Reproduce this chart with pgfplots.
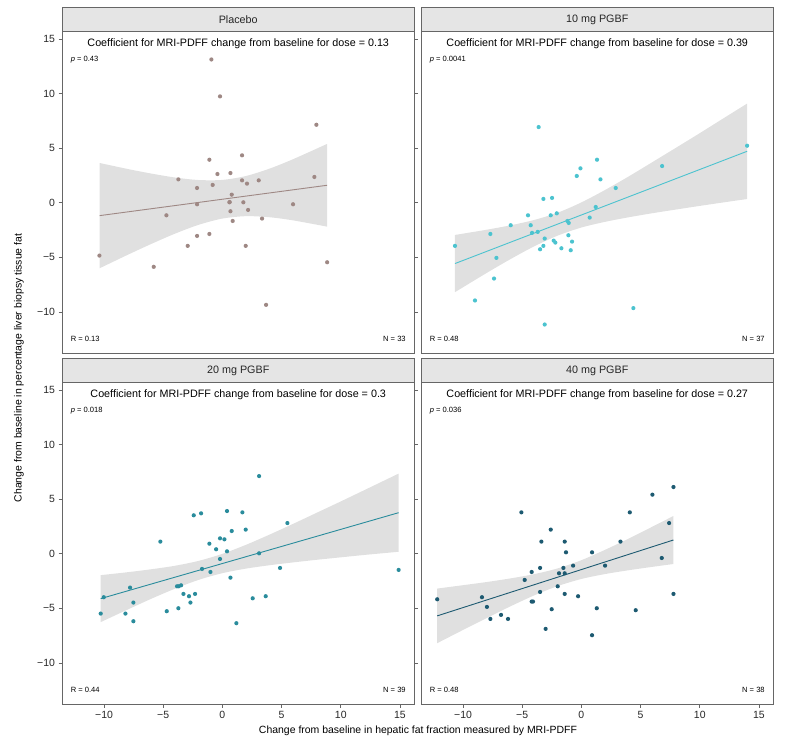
\documentclass[border=0pt]{standalone}
\usepackage{fontspec}
\setmainfont{Liberation Sans}
\usepackage{pgfplots}
\pgfplotsset{compat=1.18}
\usepgfplotslibrary{fillbetween}

\definecolor{placebo}{HTML}{9E8884}
\definecolor{tenmg}{HTML}{4CC3CF}
\definecolor{twentymg}{HTML}{2A8C9C}
\definecolor{fortymg}{HTML}{1D5A71}
\definecolor{band}{HTML}{E0E0E0}
\definecolor{frame}{HTML}{666666}
\definecolor{stripbg}{HTML}{E5E5E5}

\newcommand{\bigfont}{\fontsize{10.8}{13}\selectfont}
\newcommand{\smallfont}{\fontsize{7.6}{9}\selectfont}

\pgfplotsset{
  facet/.style={
    scale only axis,
    width=352.5bp, height=321.5bp,
    anchor=north west,
    xmin=-13.55, xmax=16.23,
    ymin=-13.77, ymax=15.67,
    axis line style={frame, line width=0.9bp},
    tick style={frame, line width=0.6bp},
    tick align=outside,
    major tick length=3.5bp,
    xtick={-10,-5,0,5,10,15},
    ytick={-10,-5,0,5,10,15},
    ticklabel style={font=\fontsize{10.5}{12}\selectfont, color=black!85},
    xticklabels={−10,−5,0,5,10,15},
    yticklabels={−10,−5,0,5,10,15},
    clip=false,
  },
  notx/.style={xtick=\empty},
  noty/.style={ytick=\empty},
  pts/.style={only marks, mark=*, mark size=2.1bp, mark options={solid, draw opacity=0}},
  fit/.style={line width=0.9bp},
}

% strip, coefficient title and p, R, N notes of one panel
\newcommand{\facetnotes}[5]{%
  \draw[frame, fill=stripbg, line width=0.9bp] (rel axis cs:0,1) rectangle (rel axis cs:1,1.0747);
  \node[font=\bigfont, text=black!85] at (rel axis cs:0.5,1.0373) {#1};
  \node[font=\bigfont] at (rel axis cs:0.5,0.9611) {Coefficient for MRI-PDFF change from baseline for dose = #2};
  \node[font=\smallfont, anchor=west] at (rel axis cs:0.015,0.9129) {\textit{p} = #3};
  \node[font=\smallfont, anchor=west] at (rel axis cs:0.015,0.0435) {R = #4};
  \node[font=\smallfont, anchor=east] at (rel axis cs:0.985,0.0435) {N = #5};
}

\begin{document}
\begin{tikzpicture}
\path (0,0) rectangle (787bp,-743bp);

% ---------- Placebo ----------
\begin{axis}[facet, notx, at={(62bp,-31.5bp)}]
  \addplot[name path=up, draw=none, smooth] coordinates {
    (-10.37,3.63) (-8,3.08) (-6,2.66) (-4,2.30) (-2,2.07) (0,2.08)
    (2,2.44) (4,3.12) (6,3.99) (8.85,5.38)};
  \addplot[name path=lo, draw=none, smooth] coordinates {
    (-10.37,-6.01) (-8,-4.78) (-6,-3.78) (-4,-2.84) (-2,-2.03) (0,-1.46)
    (2,-1.24) (4,-1.34) (6,-1.63) (8.85,-2.20)};
  \addplot[band, draw=none] fill between[of=up and lo];
  \addplot[fit, placebo] coordinates {(-10.37,-1.19) (8.85,1.59)};
  \addplot[pts, placebo] coordinates {
    (-0.93,13.11) (-0.20,9.73) (7.94,7.13) (-1.10,3.93) (1.66,4.33)
    (-0.42,2.62) (0.68,2.71) (-3.72,2.13) (1.66,2.04) (2.08,1.74)
    (3.07,2.04) (7.77,2.35) (-2.14,1.34) (-0.82,1.62) (0.79,0.73)
    (0.59,0.03) (1.77,0.03) (-2.14,-0.15) (5.97,-0.15) (0.68,-0.79)
    (2.17,-0.67) (-4.73,-1.16) (0.87,-1.68) (3.35,-1.46) (-2.14,-3.05)
    (-1.10,-2.87) (-2.93,-3.96) (1.97,-3.96) (-10.39,-4.85) (-5.80,-5.88)
    (8.85,-5.46) (3.69,-9.36) (0.62,0.05)};
  \facetnotes{Placebo}{0.13}{0.43}{0.13}{33}
\end{axis}

% ---------- 10 mg ----------
\begin{axis}[facet, notx, noty, at={(421bp,-31.5bp)}]
  \addplot[name path=up, draw=none, smooth] coordinates {
    (-10.68,-2.96) (-8,-2.48) (-6,-2.08) (-4,-1.59) (-2,-0.92) (0,0.02)
    (2,1.16) (4,2.40) (6,3.71) (8,5.03) (10,6.36) (12,7.72) (14,9.07)};
  \addplot[name path=lo, draw=none, smooth] coordinates {
    (-10.68,-8.20) (-8,-6.44) (-6,-5.18) (-4,-4.01) (-2,-3.02) (0,-2.28)
    (2,-1.76) (4,-1.34) (6,-0.97) (8,-0.63) (10,-0.30) (12,0.02) (14,0.33)};
  \addplot[band, draw=none] fill between[of=up and lo];
  \addplot[fit, tenmg] coordinates {(-10.68,-5.58) (14.0,4.70)};
  \addplot[pts, tenmg] coordinates {
    (-3.61,6.92) (14.0,5.21) (1.32,3.93) (-0.08,3.14) (-0.39,2.44)
    (1.61,2.13) (6.82,3.35) (2.90,1.34) (-3.21,0.34) (-2.48,0.43)
    (1.21,-0.40) (-4.51,-1.16) (-2.59,-1.16) (-2.08,-0.98) (0.70,-1.37)
    (-1.18,-1.68) (-1.07,-1.86) (-5.97,-2.07) (-4.28,-2.07) (-7.69,-2.87)
    (-4.17,-2.77) (-3.69,-2.68) (-1.10,-2.99) (-3.10,-3.29) (-2.34,-3.48)
    (-2.20,-3.66) (-0.79,-3.57) (-10.68,-3.96) (-3.21,-3.96) (-3.49,-4.27)
    (-1.69,-4.18) (-0.90,-4.36) (-7.18,-5.06) (-7.38,-6.95) (-8.99,-8.96)
    (4.39,-9.66) (-3.10,-11.16)};
  \facetnotes{10 mg PGBF}{0.39}{0.0041}{0.48}{37}
\end{axis}

% ---------- 20 mg ----------
\begin{axis}[facet, at={(62bp,-382.5bp)}]
  \addplot[name path=up, draw=none, smooth] coordinates {
    (-10.28,-1.97) (-8,-1.70) (-6,-1.43) (-4,-1.11) (-2,-0.66) (0,-0.02)
    (2,0.81) (4,1.75) (6,2.74) (8,3.76) (10,4.78) (12,5.82) (14.89,7.33)};
  \addplot[name path=lo, draw=none, smooth] coordinates {
    (-10.28,-6.27) (-8,-5.12) (-6,-4.13) (-4,-3.21) (-2,-2.40) (0,-1.79)
    (2,-1.37) (4,-1.06) (6,-0.80) (8,-0.56) (10,-0.34) (12,-0.12) (14.89,0.17)};
  \addplot[band, draw=none] fill between[of=up and lo];
  \addplot[fit, twentymg] coordinates {(-10.28,-4.12) (14.89,3.75)};
  \addplot[pts, twentymg] coordinates {
    (3.10,7.10) (0.39,3.90) (1.69,3.78) (-1.80,3.69) (-2.42,3.51)
    (5.49,2.80) (1.97,2.20) (0.79,2.07) (-5.24,1.10) (-1.10,0.91)
    (-0.20,1.40) (0.17,1.31) (-0.53,0.40) (0.39,0.21) (3.10,0.03)
    (-0.20,-0.49) (-1.72,-1.40) (-1.01,-1.68) (4.87,-1.31) (14.89,-1.49)
    (0.68,-2.20) (-3.83,-2.99) (-3.69,-2.99) (-3.49,-2.90) (-7.80,-3.11)
    (-3.29,-3.69) (-2.82,-3.90) (-2.31,-3.69) (-10.02,-3.99) (2.56,-4.09)
    (3.66,-3.90) (-7.52,-4.48) (-2.70,-4.48) (-3.72,-5.00) (-4.70,-5.27)
    (-10.28,-5.49) (-8.19,-5.49) (-7.52,-6.19) (1.18,-6.37)};
  \facetnotes{20 mg PGBF}{0.3}{0.018}{0.44}{39}
\end{axis}

% ---------- 40 mg ----------
\begin{axis}[facet, noty, at={(421bp,-382.5bp)}]
  \addplot[name path=up, draw=none, smooth] coordinates {
    (-12.18,-3.20) (-10,-2.89) (-8,-2.60) (-6,-2.27) (-4,-1.88) (-2,-1.35)
    (0,-0.60) (2,0.35) (4,1.38) (6,2.47) (7.78,3.45)};
  \addplot[name path=lo, draw=none, smooth] coordinates {
    (-12.18,-8.20) (-10,-6.99) (-8,-5.90) (-6,-4.83) (-4,-3.83) (-2,-2.97)
    (0,-2.32) (2,-1.87) (4,-1.52) (6,-1.21) (7.78,-0.95)};
  \addplot[band, draw=none] fill between[of=up and lo];
  \addplot[fit, fortymg] coordinates {(-12.18,-5.70) (7.78,1.25)};
  \addplot[pts, fortymg] coordinates {
    (7.78,6.10) (6.00,5.40) (4.09,3.78) (-5.07,3.78) (7.41,2.80)
    (-2.59,2.20) (-3.38,1.10) (-1.41,1.10) (3.30,1.10) (-1.30,0.12)
    (0.90,0.12) (6.79,-0.40) (-0.70,-1.10) (2.00,-1.10) (-3.49,-1.31)
    (-1.52,-1.31) (-1.89,-1.80) (-1.41,-1.80) (-4.20,-1.68) (-4.79,-2.41)
    (-2.00,-2.99) (-3.49,-3.51) (-1.41,-3.69) (-0.28,-3.90) (7.78,-3.69)
    (-12.18,-4.18) (-8.40,-3.99) (-4.20,-4.39) (-4.09,-4.39) (-7.98,-4.88)
    (-2.51,-5.09) (1.30,-5.00) (4.59,-5.18) (-6.79,-5.61) (-7.69,-5.98)
    (-6.20,-5.98) (-3.02,-6.89) (0.90,-7.47)};
  \facetnotes{40 mg PGBF}{0.27}{0.036}{0.48}{38}
\end{axis}

\node[font=\fontsize{10.5}{12}\selectfont, rotate=90] at (19bp,-368bp)
  {Change from baseline in percentage liver biopsy tissue fat};
\node[font=\fontsize{10.5}{12}\selectfont] at (418bp,-731bp)
  {Change from baseline in hepatic fat fraction measured by MRI-PDFF};
\end{tikzpicture}
\end{document}
